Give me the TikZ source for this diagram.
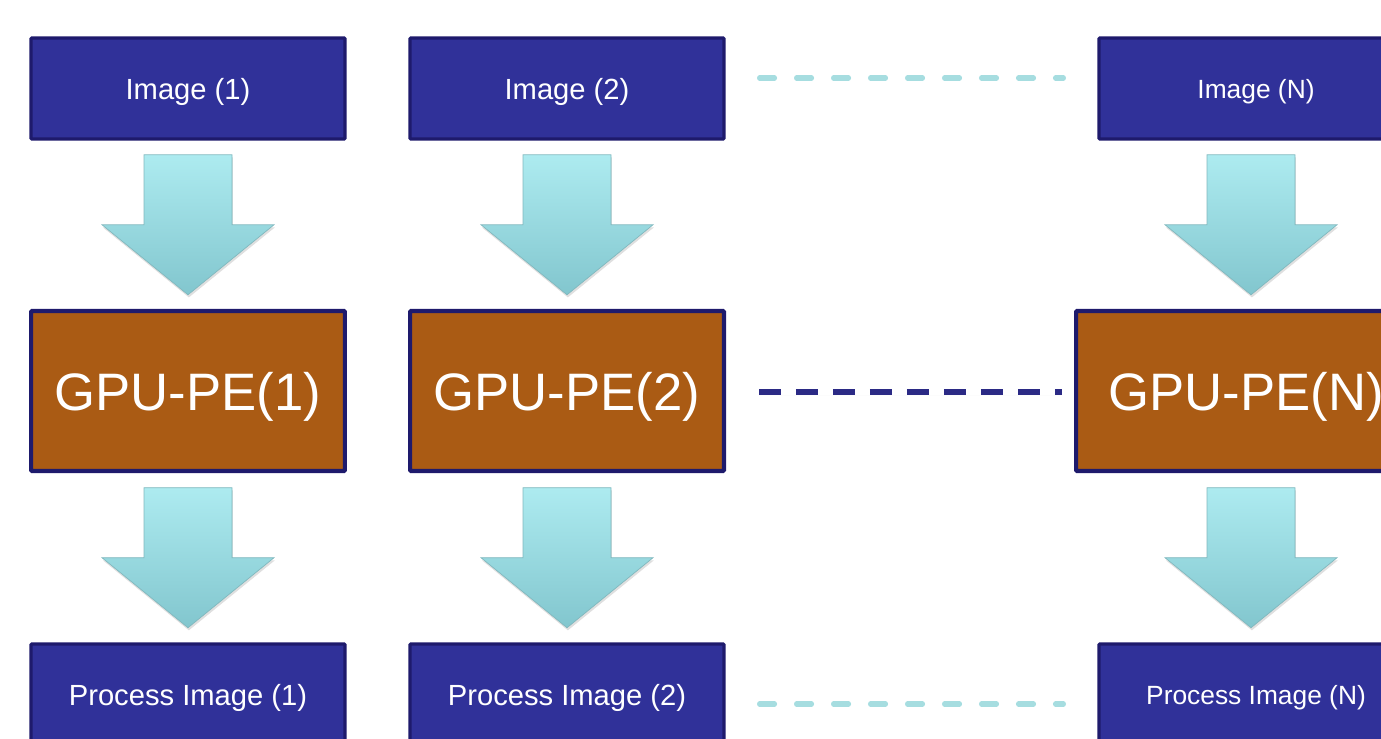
\documentclass[tikz,border=0pt]{standalone}
\usepackage{fontspec}
\setmainfont{Liberation Sans}
\usetikzlibrary{calc,shadows}
\definecolor{boxblue}{HTML}{303199}
\definecolor{boxedge}{HTML}{1E1A6C}
\definecolor{gpubrown}{HTML}{AA5B14}
\definecolor{dashcyan}{HTML}{A6DDE0}
\definecolor{dashnavy}{HTML}{2B2A85}
\definecolor{arrtop}{HTML}{ADEBF0}
\definecolor{arrbot}{HTML}{82C6CE}
\tikzset{
  imgbox/.style={draw=boxedge, line width=1.8pt, fill=boxblue, text=white,
    minimum width=6.28cm, minimum height=2.02cm, inner sep=0pt, rounded corners=0.5pt,
    text depth=0pt, font=\fontsize{16.6}{20}\selectfont},
  imgboxN/.style={imgbox, font=\fontsize{15}{18}\selectfont},
  gpubox/.style={draw=boxedge, line width=2.3pt, fill=gpubrown, text=white,
    minimum width=6.28cm, minimum height=3.2cm, inner sep=0pt, rounded corners=0.5pt,
    text depth=0pt, font=\fontsize{30}{36}\selectfont},
  arrowfill/.style={top color=arrtop, bottom color=arrbot, draw=arrbot!80!gray, line width=0.4pt,
    drop shadow={opacity=0.25, shadow xshift=0.5pt, shadow yshift=-1.5pt}},
  cyandash/.style={draw=dashcyan, line width=2.9pt, line cap=round, dash pattern=on 0.3cm off 0.44cm},
  navydash/.style={draw=dashnavy, line width=2.9pt, dash pattern=on 0.44cm off 0.3cm,
    drop shadow={opacity=0.2, shadow xshift=0pt, shadow yshift=-2pt}},
}
\newcommand\blockdown[2]{%
  \path ($(#1.south)!0.5!(#2.north)$) coordinate (m);
  \path[arrowfill] ($(m)+(-44,-70)$) -- ($(m)+(44,-70)$) -- ($(m)+(44,0)$) -- ($(m)+(86,0)$)
    -- ($(m)+(0,70)$) -- ($(m)+(-86,0)$) -- ($(m)+(-44,0)$) -- cycle;}
\begin{document}
\begin{tikzpicture}[x=0.02cm,y=-0.02cm]
\useasboundingbox (0,0) rectangle (1381,739);
\clip (0,0) rectangle (1381,739);
% top row
\node[imgbox] (i1) at (188,88.5) {Image (1)};
\node[imgbox] (i2) at (567,88.5) {Image (2)};
\node[imgboxN] (iN) at (1256,88.5) {Image (N)};
% middle row
\node[gpubox] (g1) at (188,391) {GPU-PE(1)};
\node[gpubox] (g2) at (567,391) {GPU-PE(2)};
\node[gpubox, minimum width=6.8cm] (gN) at (1246,391) {GPU-PE(N)};
% bottom row
\node[imgbox] (p1) at (188,694.5) {Process Image (1)};
\node[imgbox] (p2) at (567,694.5) {Process Image (2)};
\node[imgboxN] (pN) at (1256,694.5) {Process Image (N)};
% block arrows
\blockdown{i1}{g1}
\blockdown{i2}{g2}
\blockdown{iN}{gN}
\blockdown{g1}{p1}
\blockdown{g2}{p2}
\blockdown{gN}{pN}
% dashed links
\path[cyandash] ($(i2.east)+(34,-10.5)$) -- ($(iN.west)+(-34,-10.5)$);
\path[navydash] ($(g2.east)+(33,1)$) -- ($(gN.west)+(-12,1)$);
\path[cyandash] ($(p2.east)+(34,9.5)$) -- ($(pN.west)+(-34,9.5)$);
\end{tikzpicture}
\end{document}
